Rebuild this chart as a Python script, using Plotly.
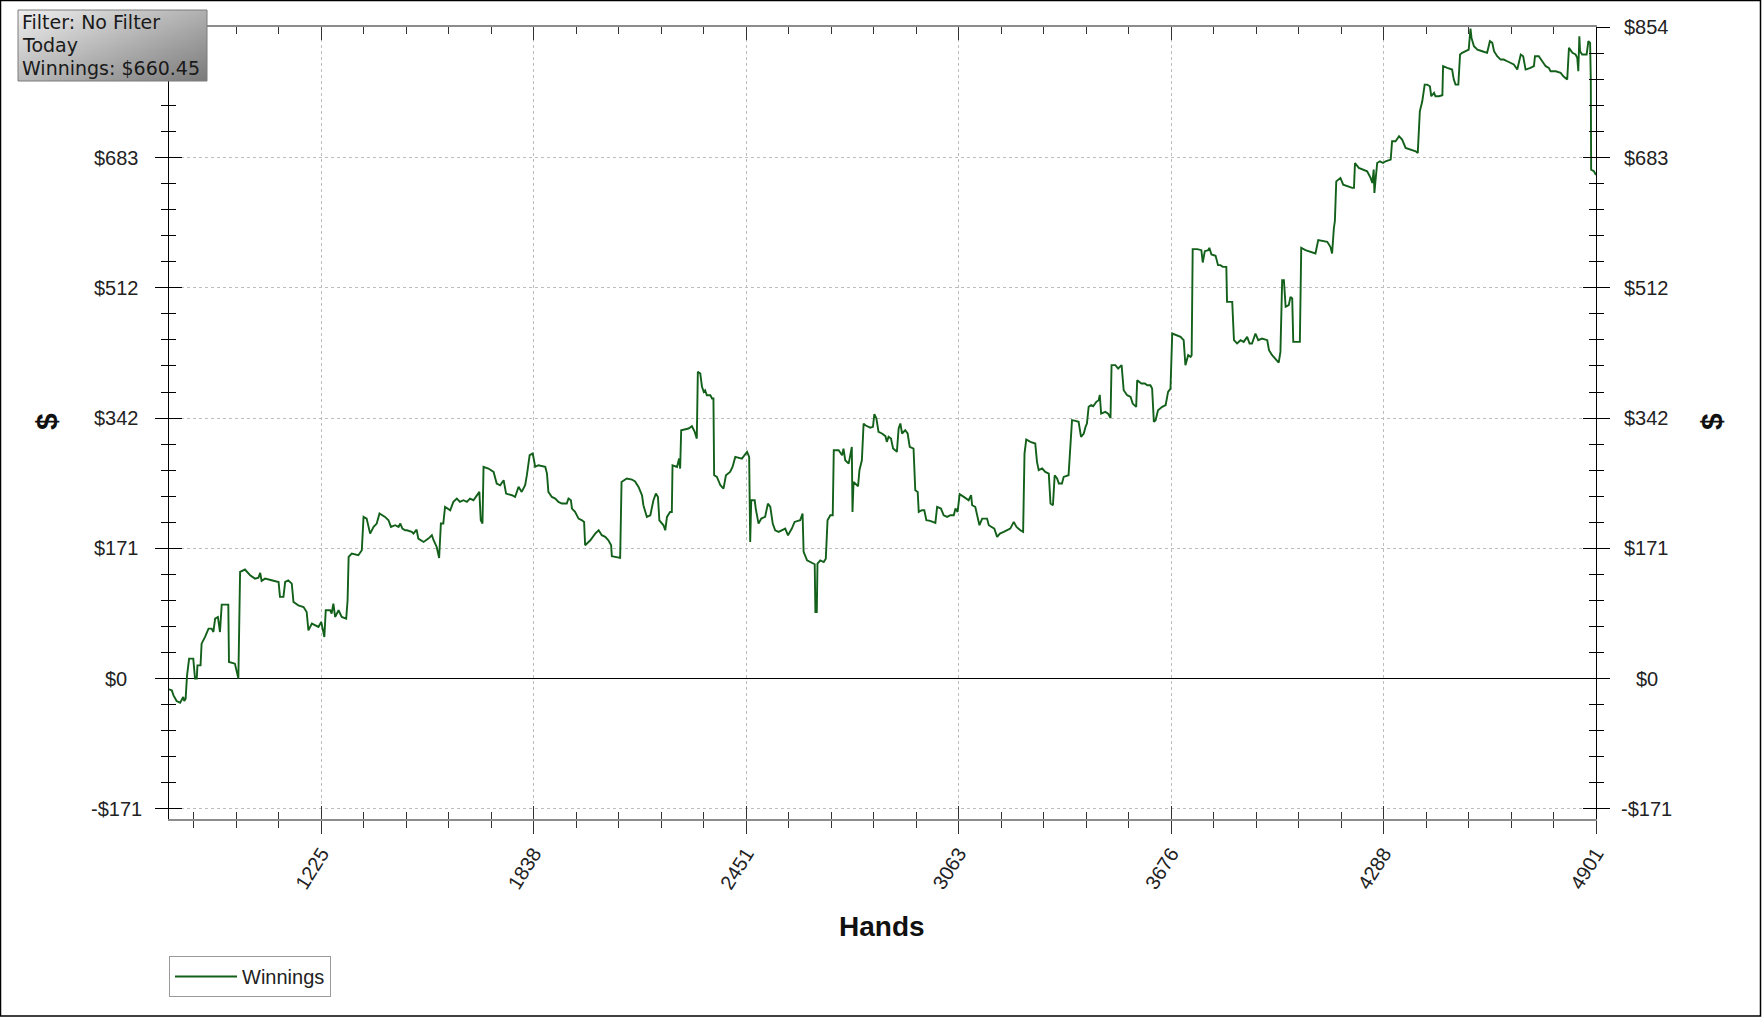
import base64
import struct
import zlib

import plotly.graph_objects as go

# ---------------- data ----------------
hand_winnings = [
    (786, -14.1), (794, -15.4), (799, -22.0), (808, -29.4), (818, -31.6), (823, -26.3), (827, -24.1),
    (830, -29.4), (834, -26.3), (838, 4.0), (844, 26.2), (856, 26.2), (861, 0.0), (866, 0.0),
    (868, 17.4), (877, 17.4), (880, 45.8), (890, 54.6), (900, 65.5), (909, 65.5), (914, 61.1),
    (919, 78.6), (927, 80.8), (933, 61.1), (938, 97.0), (957, 97.0), (959, 21.8), (976, 19.6),
    (986, 0.0), (991, 139.9), (1005, 143.0), (1020, 135.5), (1034, 131.1), (1044, 132.4),
    (1049, 138.6), (1053, 128.1), (1063, 131.1), (1082, 128.9), (1102, 126.7), (1106, 107.1),
    (1116, 107.1), (1121, 126.7), (1130, 128.9), (1140, 124.6), (1145, 100.5), (1159, 96.1),
    (1174, 93.9), (1183, 87.4), (1188, 63.3), (1198, 72.1), (1207, 69.9), (1217, 67.7),
    (1225, 74.3), (1234, 54.6), (1238, 89.6), (1251, 89.6), (1255, 85.2), (1260, 98.3),
    (1265, 80.8), (1275, 89.6), (1284, 80.8), (1297, 78.6), (1301, 102.7), (1304, 159.5),
    (1313, 163.9), (1332, 161.7), (1342, 168.3), (1347, 212.0), (1356, 209.8), (1366, 190.1),
    (1376, 198.9), (1385, 203.3), (1393, 216.4), (1409, 212.0), (1419, 207.6), (1426, 198.9),
    (1438, 201.1), (1448, 198.9), (1453, 203.3), (1459, 196.7), (1467, 194.5),
    (1472, 194.5), (1486, 192.3), (1491, 190.1), (1500, 195.4), (1505, 183.6), (1520, 179.2),
    (1534, 183.6), (1544, 188.0), (1549, 181.4), (1558, 172.6), (1565, 158.2), (1570, 203.3),
    (1577, 203.3), (1582, 225.1), (1597, 220.7), (1606, 231.7), (1616, 236.1), (1625, 231.7),
    (1635, 233.9), (1645, 231.7), (1654, 236.1), (1664, 233.9), (1674, 240.4), (1681, 244.8),
    (1685, 207.6), (1690, 203.3), (1693, 277.6), (1707, 275.4), (1722, 271.0), (1731, 255.7),
    (1741, 253.5), (1751, 260.1), (1758, 242.6), (1775, 240.4), (1784, 238.2), (1794, 251.4),
    (1803, 244.8), (1813, 253.5), (1818, 266.7), (1826, 292.9), (1835, 295.1), (1842, 277.6),
    (1851, 279.8), (1871, 277.6), (1876, 268.8), (1880, 244.8), (1890, 238.2), (1900, 236.1),
    (1909, 231.7), (1919, 229.5), (1933, 229.5), (1938, 236.1), (1945, 233.9), (1948, 222.9),
    (1957, 218.6), (1967, 209.8), (1977, 207.6), (1983, 205.4), (1986, 174.8), (2001, 181.4),
    (2015, 190.1), (2025, 194.5), (2034, 188.0), (2044, 185.8), (2053, 181.4), (2061, 174.8),
    (2063, 160.4), (2077, 159.5), (2087, 158.2), (2091, 257.9), (2106, 262.3), (2121, 261.0),
    (2130, 258.5),
    (2140, 251.3), (2150, 240.4), (2154, 227.3), (2164, 212.0), (2174, 214.2), (2183, 233.8),
    (2190, 242.6), (2196, 238.2), (2200, 207.6), (2212, 201.0), (2217, 194.5), (2222, 212.0),
    (2231, 218.5), (2236, 218.5), (2238, 279.7), (2251, 277.5), (2257, 288.5), (2260, 275.4),
    (2263, 325.7), (2284, 327.9), (2294, 330.9), (2302, 323.5), (2308, 314.7), (2311, 402.2),
    (2318, 400.0), (2323, 382.5), (2328, 376.0), (2332, 378.1), (2337, 371.6), (2347, 371.6),
    (2352, 367.2), (2356, 367.2), (2358, 266.6), (2366, 264.4), (2376, 253.5), (2385, 249.1),
    (2392, 266.6), (2404, 271.0), (2411, 277.6), (2419, 290.7), (2438, 288.5), (2453, 297.2),
    (2459, 290.7), (2462, 179.2), (2465, 233.8), (2475, 233.8), (2478, 222.9), (2486, 203.2),
    (2494, 209.8), (2505, 212.0), (2513, 229.5), (2520, 225.1), (2527, 203.2), (2534, 194.5),
    (2544, 192.3), (2554, 194.5), (2563, 196.7), (2571, 187.9), (2582, 196.7), (2590, 205.4),
    (2606, 207.6), (2613, 216.3), (2616, 166.1), (2626, 155.1), (2640, 151.6), (2648, 149.9),
    (2650, 87.3), (2654, 87.3), (2656, 150.7), (2664, 155.1), (2674, 152.9), (2680, 157.3),
    (2685, 207.6), (2693, 214.2), (2700, 214.2), (2703, 299.4), (2717, 299.4), (2727, 292.9),
    (2731, 301.6), (2736, 286.3), (2746, 281.9), (2755, 303.8), (2757, 218.5), (2760, 257.9),
    (2773, 252.2), (2777, 273.2), (2784, 286.3), (2789, 334.4), (2794, 332.2), (2808, 329.0),
    (2816, 330.1), (2820, 346.7), (2826, 341.0), (2832, 323.6), (2842, 321.4), (2852, 317.9),
    (2856, 310.4), (2861, 317.0), (2868, 314.8), (2874, 301.7), (2880, 299.5), (2885, 297.3),
    (2890, 327.9), (2895, 334.5), (2900, 321.4), (2909, 325.7), (2916, 321.4), (2922, 303.9),
    (2933, 301.7), (2938, 247.0), (2945, 244.8), (2948, 218.6), (2957, 220.8), (2964, 220.8),
    (2970, 207.7), (2981, 206.8), (2996, 204.2), (3001, 225.2), (3012, 223.0), (3020, 214.2),
    (3030, 212.0), (3039, 214.2), (3049, 214.2), (3054, 223.0), (3060, 218.6), (3066, 241.8),
    (3078, 238.3), (3092, 233.9), (3099, 240.5), (3102, 227.3), (3111, 225.2), (3116, 214.2),
    (3123, 201.1), (3131, 209.8), (3145, 209.8), (3150, 201.1), (3159, 198.9), (3166, 196.7),
    (3174, 185.8), (3182, 190.2), (3193, 192.4), (3203, 194.5), (3212, 196.7), (3222, 205.5),
    (3230, 198.9), (3241, 194.5), (3249, 192.4), (3253, 295.1), (3258, 313.5), (3270, 310.4),
    (3284, 308.2), (3289, 284.2), (3294, 273.3), (3304, 275.5), (3313, 271.1), (3323, 268.9),
    (3328, 229.5), (3335, 227.3), (3340, 266.7), (3347, 262.3), (3352, 255.8), (3361, 255.8),
    (3366, 264.5), (3380, 266.7), (3383, 288.6), (3390, 338.9), (3400, 338.0), (3409, 336.7),
    (3416, 317.0), (3424, 321.4), (3429, 330.1), (3433, 334.5), (3438, 356.4), (3445, 358.5),
    (3451, 357.2), (3460, 362.9), (3467, 365.1), (3470, 372.0), (3474, 347.6), (3486, 349.8),
    (3494, 347.5), (3501, 341.8), (3504, 411.0), (3515, 411.0), (3523, 406.6), (3533, 411.0),
    (3539, 378.1), (3549, 371.6), (3559, 369.4), (3565, 360.6), (3575, 356.3), (3578, 391.3),
    (3590, 386.9), (3600, 386.9), (3607, 384.7), (3616, 384.7), (3621, 380.3), (3626, 336.6),
    (3631, 338.8), (3638, 351.9), (3650, 356.3), (3660, 358.5), (3667, 375.9), (3674, 380.3),
    (3679, 452.5), (3693, 450.3), (3703, 448.1), (3712, 443.7), (3717, 410.9), (3725, 424.1),
    (3732, 421.9), (3735, 424.1), (3738, 563.1), (3751, 563.1), (3763, 561.8), (3767, 545.6),
    (3773, 560.5), (3783, 561.8), (3786, 564.9), (3792, 556.1), (3804, 554.4), (3811, 542.1),
    (3818, 542.1), (3825, 539.9), (3835, 539.9), (3837, 494.0), (3852, 494.0), (3857, 443.7),
    (3866, 439.4), (3876, 443.7), (3885, 441.5), (3895, 448.1), (3902, 439.4), (3909, 439.4),
    (3919, 452.5), (3927, 443.7), (3938, 445.9), (3953, 443.7), (3958, 430.6), (3967, 424.1),
    (3977, 419.7), (3986, 414.4), (3991, 428.4), (3996, 522.4), (4001, 522.4), (4006, 487.5),
    (4015, 489.7), (4020, 500.6), (4025, 498.4), (4028, 441.5), (4047, 441.5), (4051, 564.9),
    (4063, 561.8), (4078, 559.6), (4092, 557.4), (4100, 574.9), (4116, 573.6), (4126, 572.7),
    (4135, 566.2), (4140, 557.4), (4145, 590.2), (4148, 600.0), (4152, 652.0),
    (4164, 656.5), (4172, 647.7), (4183, 645.5), (4198, 643.4), (4203, 643.4), (4206, 676.1),
    (4217, 669.6), (4232, 667.4), (4241, 665.2), (4251, 656.5), (4256, 649.9), (4260, 667.4),
    (4262, 636.8), (4265, 652.1), (4270, 676.1), (4278, 678.3), (4287, 676.1), (4294, 678.3),
    (4309, 680.5), (4313, 704.6), (4323, 704.6), (4333, 711.1), (4342, 706.8), (4352, 695.8),
    (4371, 693.6), (4381, 691.5), (4387, 689.3), (4390, 717.7), (4393, 743.9), (4400, 757.0),
    (4407, 778.9), (4414, 778.9), (4422, 776.7), (4426, 763.6), (4434, 768.0), (4438, 763.6),
    (4448, 763.6), (4458, 764.9), (4460, 803.0), (4472, 800.8), (4486, 798.6), (4491, 785.5),
    (4496, 778.9), (4504, 778.9), (4509, 818.3), (4515, 820.5), (4525, 822.6), (4534, 824.8),
    (4539, 852.4), (4542, 840.1), (4549, 829.2), (4559, 824.8), (4573, 822.6), (4587, 820.5),
    (4595, 835.8), (4602, 833.6), (4607, 822.6), (4616, 816.1), (4626, 811.7), (4635, 811.7),
    (4645, 809.5), (4655, 807.3), (4664, 805.2), (4674, 798.6), (4684, 818.3), (4691, 816.1),
    (4698, 798.6), (4712, 800.8), (4722, 803.0), (4725, 816.1), (4736, 816.1), (4746, 809.5),
    (4756, 803.0), (4765, 800.8), (4770, 796.4), (4785, 796.4), (4799, 794.2), (4807, 789.8),
    (4818, 785.5), (4823, 827.0), (4833, 820.5), (4842, 818.3), (4847, 813.9), (4850, 796.4),
    (4853, 842.3), (4855, 822.6), (4861, 818.3), (4874, 818.3), (4879, 835.8), (4884, 833.6),
    (4886, 785.5), (4887, 667.4), (4895, 665.2), (4901, 660.45),
]
hands = [p[0] for p in hand_winnings]
winnings = [p[1] for p in hand_winnings]

x_tick_vals = [1225.25, 1837.875, 2450.5, 3063.125, 3675.75, 4288.375, 4901]
x_tick_text = ["1225", "1838", "2451", "3063", "3676", "4288", "4901"]
x_range = [786, 4901]
x_minor_step = 122.525

y_tick_vals = [-170.8, 0, 170.8, 341.6, 512.4, 683.2, 854]
y_tick_text = ["-$171", "$0", "$171", "$342", "$512", "$683", "$854"]
y_range = [-184.1, 854.4]
y_minor_step = 34.16

info_lines = ["Filter: No Filter", "Today", "Winnings: $660.45"]
series_name = "Winnings"

# ---------------- layout geometry (pixels) ----------------
W, H = 1764, 1017
L, R, T, B = 169, 1596, 27, 819


def px_x(x):
    return (x - L) / (R - L)


def px_y(y):
    return (B - y) / (B - T)


SANS = "Arial, Liberation Sans, Helvetica, sans-serif"
VERD = "Verdana, DejaVu Sans, sans-serif"


def gradient_png(w, h):
    raw = b""
    for j in range(h):
        row = b"\x00"
        for i in range(w):
            u = i / (w - 1)
            v = j / (h - 1)
            c = int(round(238 - 62 * u - 52 * v))
            row += bytes([c, c, c])
        raw += row

    def chunk(t, d):
        return struct.pack(">I", len(d)) + t + d + struct.pack(">I", zlib.crc32(t + d) & 0xFFFFFFFF)

    png = (b"\x89PNG\r\n\x1a\n"
           + chunk(b"IHDR", struct.pack(">IIBBBBB", w, h, 8, 2, 0, 0, 0))
           + chunk(b"IDAT", zlib.compress(raw))
           + chunk(b"IEND", b""))
    return "data:image/png;base64," + base64.b64encode(png).decode()


fig = go.Figure()
fig.add_trace(go.Scatter(x=hands, y=winnings, mode="lines", name=series_name,
                         line=dict(color="#13601a", width=1.9), xaxis="x", yaxis="y"))
# helper traces so the overlay axes are drawn
for xa, ya in [("x2", "y"), ("x3", "y"), ("x", "y2"), ("x", "y3"), ("x", "y4")]:
    fig.add_trace(go.Scatter(x=[None], y=[None], xaxis=xa, yaxis=ya, showlegend=False,
                             hoverinfo="skip", mode="lines"))

minor_y = lambda d: dict(tickmode="linear", tick0=0, dtick=y_minor_step, ticks=d, ticklen=7,
                         tickcolor="black", tickwidth=1, showgrid=False)
minor_x = lambda d: dict(tickmode="linear", tick0=0, dtick=x_minor_step, ticks=d, ticklen=7,
                         tickcolor="#333", tickwidth=1, showgrid=False)

base_y = dict(range=y_range, tickmode="array", tickvals=y_tick_vals, showticklabels=False,
              ticklen=13, tickcolor="black", tickwidth=1, zeroline=False, showgrid=False,
              fixedrange=True)
base_x = dict(range=x_range, tickmode="array", tickvals=x_tick_vals, ticktext=x_tick_text,
              ticklen=13, tickcolor="#333", tickwidth=1, zeroline=False, showgrid=False,
              fixedrange=True)

fig.update_layout(
    width=W, height=H, autosize=False,
    margin=dict(l=L, r=W - R, t=T, b=H - B, pad=0),
    paper_bgcolor="white", plot_bgcolor="white",
    font=dict(family=SANS, size=20, color="#222"),
    xaxis=dict(base_x, side="bottom", anchor="y", ticks="outside", minor=minor_x("outside"),
               showticklabels=True, tickangle=-58, ticklabelstandoff=0,
               tickfont=dict(family=SANS, size=20, color="#222"),
               showgrid=True, gridcolor="#bdbdbd", griddash="dot", gridwidth=1,
               showline=True, linecolor="#8c8c8c", linewidth=2),
    xaxis2=dict(base_x, overlaying="x", side="bottom", anchor="y", ticks="inside",
                minor=minor_x("inside"), showticklabels=False, showline=False),
    xaxis3=dict(base_x, overlaying="x", side="top", anchor="y", ticks="inside",
                minor=minor_x("inside"), showticklabels=False, showline=True,
                linecolor="#8c8c8c", linewidth=2),
    yaxis=dict(base_y, side="left", anchor="x", ticks="outside", minor=minor_y("outside"),
               showgrid=True, gridcolor="#bdbdbd", griddash="dot", gridwidth=1,
               zeroline=True, zerolinecolor="black", zerolinewidth=1,
               showline=True, linecolor="black", linewidth=1),
    yaxis2=dict(base_y, overlaying="y", side="left", anchor="x", ticks="inside",
                minor=minor_y("inside"), showline=False),
    yaxis3=dict(base_y, overlaying="y", side="right", anchor="x", ticks="outside",
                minor=minor_y("outside"), showline=True, linecolor="black", linewidth=1),
    yaxis4=dict(base_y, overlaying="y", side="right", anchor="x", ticks="inside",
                minor=minor_y("inside"), showline=False),
    showlegend=True,
    legend=dict(x=0, y=px_y(956), xanchor="left", yanchor="top", bgcolor="white",
                bordercolor="#9a9a9a", borderwidth=1, itemwidth=62,
                font=dict(family=SANS, size=20, color="#222")),
    hovermode=False,
)

annotations = []
# y tick labels (centred, both sides); the top-left one is hidden under the info box
for v, t in zip(y_tick_vals, y_tick_text):
    if v < y_tick_vals[-1]:
        annotations.append(dict(x=px_x(116), y=v, xref="paper", yref="y", text=t, showarrow=False,
                                xanchor="center", yanchor="middle",
                                font=dict(family=SANS, size=20, color="#222")))
    annotations.append(dict(x=px_x(1647), y=v, xref="paper", yref="y", text=t, showarrow=False,
                            xanchor="center", yanchor="middle",
                            font=dict(family=SANS, size=20, color="#222")))
# axis titles
annotations.append(dict(x=px_x(882), y=px_y(927), xref="paper", yref="paper", text="<b>Hands</b>",
                        showarrow=False, xanchor="center", yanchor="middle",
                        font=dict(family=SANS, size=28, color="#111")))
for xp in (46, 1711):
    annotations.append(dict(x=px_x(xp), y=px_y(422), xref="paper", yref="paper", text="<b>$</b>",
                            showarrow=False, xanchor="center", yanchor="middle", textangle=-90,
                            font=dict(family=SANS, size=30, color="#111")))
# info box text
for yc, line in zip((22, 45, 67.5), info_lines):
    annotations.append(dict(x=px_x(20), y=px_y(yc), xref="paper", yref="paper", text=line,
                            showarrow=False, xanchor="left", yanchor="middle",
                            font=dict(family=VERD, size=19, color="#1a1a1a")))
fig.update_layout(annotations=annotations)

fig.add_layout_image(dict(source=gradient_png(64, 24), xref="paper", yref="paper",
                          x=px_x(18), y=px_y(10), sizex=px_x(207) - px_x(18),
                          sizey=px_y(10) - px_y(81), sizing="stretch", xanchor="left",
                          yanchor="top", layer="above"))

fig.update_layout(shapes=[
    dict(type="rect", xref="paper", yref="paper", x0=px_x(18), x1=px_x(207),
         y0=px_y(81), y1=px_y(10), line=dict(color="#7a7a7a", width=1), layer="above"),
    dict(type="rect", xref="paper", yref="paper", x0=px_x(0.5), x1=px_x(1760.5),
         y0=px_y(1016), y1=px_y(0.5), line=dict(color="black", width=1.5), layer="below"),
])

fig.write_html("out.html", post_script="document.body.style.margin='0';",
               config={"displayModeBar": False})
